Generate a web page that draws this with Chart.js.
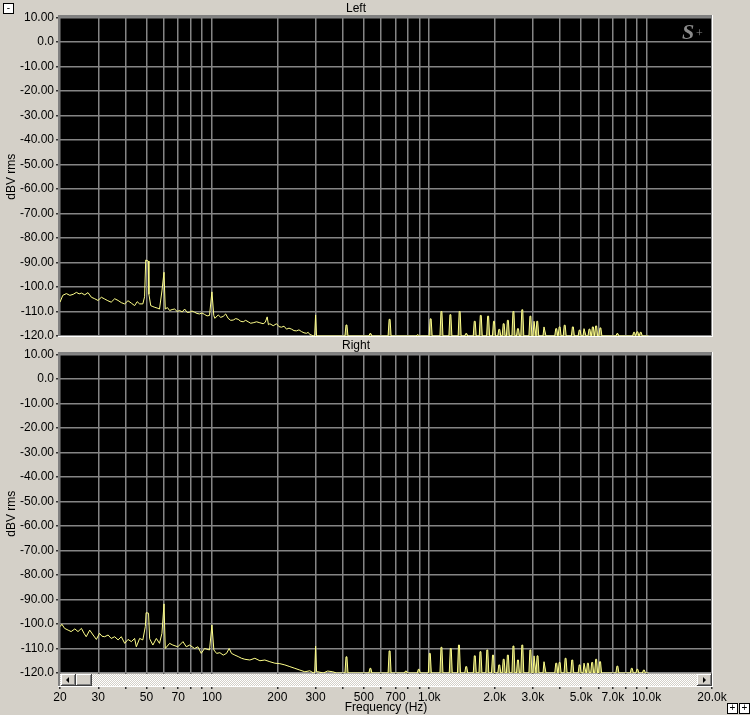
<!DOCTYPE html>
<html>
<head>
<meta charset="utf-8">
<title>Left / Right spectrum</title>
<script src="https://cdn.jsdelivr.net/npm/chart.js@4.4.1/dist/chart.umd.min.js"></script>
<style>
  html, body { margin: 0; padding: 0; }
  body { width: 750px; height: 715px; background: #d4d0c8; position: relative; overflow: hidden; font-family: "Liberation Sans", Arial, sans-serif; }
  #leftChart { position: absolute; left: 0; top: 0; }
  #rightChart { position: absolute; left: 0; top: 337px; }
  .btn { position: absolute; width: 9px; height: 9px; border: 1px solid #000; background: #fff; font-size: 10px; line-height: 8px; text-align: center; color: #000; }
</style>
</head>
<body>
<canvas id="leftChart" width="750" height="345"></canvas>
<canvas id="rightChart" width="750" height="378"></canvas>
<div class="btn" style="left:3px;top:3px;">-</div>
<div class="btn" style="left:727px;top:703px;">+</div>
<div class="btn" style="left:739px;top:703px;">+</div>
<script>
// axis setup
const FLOOR = -120;
const yTickValues = [10, 0, -10, -20, -30, -40, -50, -60, -70, -80, -90, -100, -110, -120];
const yTickLabels = ["10.00", "0.0", "-10.00", "-20.00", "-30.00", "-40.00", "-50.00", "-60.00",
  "-70.00", "-80.00", "-90.00", "-100.0", "-110.0", "-120.0"];
const xGridHz = [20, 30, 40, 50, 60, 70, 80, 90, 100, 200, 300, 400, 500, 600, 700, 800, 900,
  1000, 2000, 3000, 4000, 5000, 6000, 7000, 8000, 9000, 10000, 20000];
const xLabelHz = [20, 30, 50, 70, 100, 200, 300, 500, 700, 1000, 2000, 3000, 5000, 7000, 10000, 20000];
const xLabelText = ["20", "30", "50", "70", "100", "200", "300", "500", "700", "1.0k", "2.0k", "3.0k",
  "5.0k", "7.0k", "10.0k", "20.0k"];

// Left channel: noisy low end (20 Hz .. 300 Hz)
const leftLowHz = [20, 20.6, 21.4, 22.2, 23, 23.8, 24.5, 25.1, 26, 26.9, 27.9, 28.9, 29.9, 31, 32.1,
  33.2, 34.4, 35.7, 37, 38.3, 39.7, 41.1, 42.6, 44.1, 45.3, 46.5, 48.1, 49, 49.6, 50.9, 51.3, 52.3,
  53.5, 54.6, 56, 57.4, 58.9, 60.2, 61, 62.4, 63.9, 65.6, 67.4, 69.2, 71, 73, 74.9, 77, 79, 81, 83.2,
  85.4, 87.7, 90, 92.5, 95, 97.5, 100, 102, 103.2, 106.9, 109.8, 112.7, 115.7, 118.8, 122, 125.3,
  128.7, 132.1, 135.7, 139.3, 143, 146.9, 150.8, 154.8, 160.5, 166.2, 172.1, 176, 179.6, 182, 184.8,
  191.5, 198.3, 203.6, 209, 214.7, 220.4, 226.3, 232.4, 238.6, 245, 251.6, 258.3, 265.3, 272.4,
  277.3, 282.2, 287, 292.2, 297, 300, 303];
const leftLowDb = [-106.2, -103.4, -102.7, -103.4, -103, -102.2, -102.8, -102.5, -103.2, -102.3,
  -104.2, -104.8, -105.5, -104.2, -104.9, -105.6, -106.2, -104.8, -105.5, -106.4, -106.9, -105.6,
  -106.6, -107.6, -106, -106.9, -106.9, -104, -89, -89.4, -103, -107.6, -108, -108.3, -108.6, -109,
  -101.6, -94, -109, -108.4, -109.6, -109.2, -109, -110, -109.6, -110.2, -109, -110.4, -110.3,
  -109.8, -110.3, -110.8, -111, -110.6, -111.2, -111.8, -111.6, -102, -111.6, -112.8, -111.4,
  -112.4, -112, -111, -112.8, -113.6, -113.5, -112.9, -113.2, -114, -114.2, -113.6, -114.2, -114.8,
  -114.6, -114.2, -114.6, -115, -114.4, -112.2, -115.4, -115, -115.8, -115, -116.2, -116.4, -116,
  -117.2, -116.8, -117.2, -117.8, -117.9, -117.5, -118.2, -118.7, -118.9, -118.5, -119.4, -119.6,
  -120, -120, -111.4, -120];
// Left channel: tones poking above the -120 floor
const leftToneHz = [416, 536, 657, 885, 1015, 1138, 1251, 1380, 1480, 1619, 1726, 1866, 1985, 2100,
  2200, 2300, 2440, 2560, 2680, 2920, 3050, 3140, 3390, 3840, 3980, 4200, 4580, 4920, 5180, 5460,
  5660, 5860, 6130, 7340, 8760, 9070, 9400];
const leftToneDb = [-115.5, -119, -113.2, -119.5, -113, -110, -111.3, -110, -119, -114, -111.6,
  -111.9, -114, -117.3, -115, -113.6, -110, -117, -109.3, -111.9, -114, -114, -116.3, -117, -116.3,
  -115.6, -116.3, -117.6, -117, -117.2, -116.3, -115.9, -116.7, -119, -118.5, -118.3, -118.5];

// Right channel
const rightLowHz = [20, 20.4, 21, 21.8, 22.5, 23.4, 24.2, 25.1, 25.8, 26.4, 27.4, 28.4, 29.4, 30.4,
  31.2, 32.1, 33.3, 34.4, 35.7, 37, 38.3, 39.7, 41.1, 42.6, 44.1, 44.9, 46.5, 48.1, 49.4, 49.8, 51.1,
  51.7, 53.5, 55.5, 57.4, 58.9, 60.2, 61, 63.9, 66.1, 69.7, 73.6, 76.2, 79, 83.2, 86.2, 89.3, 92.5,
  97.5, 100, 102.1, 105.1, 108.8, 112.7, 116.7, 120.1, 123.1, 127.6, 132.1, 136.9, 141.8, 149.5,
  157.6, 166.2, 175.2, 184.8, 194.8, 205.4, 216.6, 228.4, 240.8, 253.8, 267.6, 282.2, 292.2, 297,
  300, 303, 308, 325, 341, 360, 374];
const rightLowDb = [-101.1, -100.1, -101.8, -102.5, -103.1, -102, -103.1, -101.8, -103.8, -105.2,
  -102.5, -104.5, -106.3, -103.8, -105, -105.2, -104.5, -105.9, -105.2, -106.5, -105.2, -107.9,
  -106.3, -107.2, -105.9, -109.3, -105.9, -106.5, -101, -95.4, -95.6, -106, -108.6, -105.9, -107.9,
  -103.8, -91.8, -110, -107.9, -108.6, -109.3, -107.2, -109.3, -108.6, -110, -109.3, -112, -110,
  -110.6, -100.4, -110.6, -112, -111.7, -112.7, -112, -110, -112, -112.7, -113.3, -114, -114.4,
  -114.7, -114, -115, -114.7, -115.4, -116, -116.2, -116.7, -117.4, -118.1, -118.8, -119.5, -119.1,
  -119.9, -120, -109, -119.5, -119.5, -120, -119.2, -119.5, -120];
const rightToneHz = [416, 536, 657, 781, 895, 1006, 1138, 1256, 1370, 1480, 1620, 1720, 1850, 1965,
  2100, 2200, 2300, 2440, 2560, 2680, 2920, 3050, 3150, 3390, 3840, 3980, 4240, 4550, 4920, 5180,
  5370, 5620, 5860, 6110, 7340, 8550, 9070, 9720];
const rightToneDb = [-113.4, -118.1, -111, -119.2, -118.5, -112, -109.5, -110, -108.6, -117.4, -113,
  -111.3, -110.6, -112.7, -116.7, -114.4, -112.7, -109, -114.7, -108.6, -110.6, -113, -113, -115.4,
  -116, -115.7, -114, -114.7, -116.7, -116, -116, -115.7, -114.4, -115.4, -117.2, -118.1, -118.5,
  -118.8];
const floorEndHz = 10200;

function tracePoints(hz, db) {
  return hz.map((f, i) => ({ x: f, y: db[i] }));
}

// floor line at -120 with a narrow spike for every tone
function tonePoints(startHz, hz, db, endHz) {
  const pts = [{ x: startHz, y: FLOOR }];
  hz.forEach((f, i) => {
    pts.push({ x: f / 1.016, y: FLOOR }, { x: f / 1.005, y: db[i] },
      { x: f * 1.005, y: db[i] }, { x: f * 1.016, y: FLOOR });
  });
  pts.push({ x: endHz, y: FLOOR });
  return pts;
}

let hatch = null;
function hatchPattern(ctx) {
  if (hatch) return hatch;
  const c = document.createElement("canvas");
  c.width = 2; c.height = 2;
  const g = c.getContext("2d");
  g.fillStyle = "#ffffff"; g.fillRect(0, 0, 2, 2);
  g.fillStyle = "#d4d0c8"; g.fillRect(0, 0, 1, 1); g.fillRect(1, 1, 1, 1);
  hatch = ctx.createPattern(c, "repeat");
  return hatch;
}

function button3d(ctx, x, y, w, h) {
  ctx.fillStyle = "#d4d0c8"; ctx.fillRect(x, y, w, h);
  ctx.fillStyle = "#ffffff"; ctx.fillRect(x, y, w - 1, 1); ctx.fillRect(x, y, 1, h - 1);
  ctx.fillStyle = "#404040"; ctx.fillRect(x, y + h - 1, w, 1); ctx.fillRect(x + w - 1, y, 1, h);
  ctx.fillStyle = "#808080"; ctx.fillRect(x + 1, y + h - 2, w - 2, 1); ctx.fillRect(x + w - 2, y + 1, 1, h - 2);
}

const panelFrame = {
  id: "panelFrame",
  beforeDraw(chart) {
    const { ctx, chartArea: a } = chart;
    ctx.save();
    ctx.fillStyle = "#000";
    ctx.fillRect(a.left, a.top, a.right - a.left, a.bottom - a.top);
    ctx.restore();
  },
  afterDraw(chart, args, opts) {
    const { ctx, chartArea: a } = chart;
    const l = Math.round(a.left), t = Math.round(a.top), r = Math.round(a.right), b = Math.round(a.bottom);
    ctx.save();
    const extra = opts.scrollbar ? 13 : 0;
    ctx.fillStyle = "#808080";
    ctx.fillRect(l - 2, t - 2, r - l + 2, 2);
    ctx.fillRect(l - 2, t - 2, 2, b - t + 3 + extra);
    ctx.fillStyle = "#ffffff";
    ctx.fillRect(r, t - 2, 1, b - t + 3 + extra);
    ctx.fillRect(l - 2, b + extra, r - l + 3, 1);
    if (opts.scrollbar) {
      const sy = b + 1;
      ctx.fillStyle = hatchPattern(ctx);
      ctx.fillRect(l, sy, r - l, 12);
      button3d(ctx, l + 1, sy, 15, 12);
      button3d(ctx, l + 16, sy, 16, 12);
      button3d(ctx, r - 15, sy, 15, 12);
      ctx.fillStyle = "#000";
      ctx.beginPath();
      ctx.moveTo(l + 6, sy + 6); ctx.lineTo(l + 9, sy + 3); ctx.lineTo(l + 9, sy + 9); ctx.closePath(); ctx.fill();
      ctx.beginPath();
      ctx.moveTo(r - 6, sy + 6); ctx.lineTo(r - 9, sy + 3); ctx.lineTo(r - 9, sy + 9); ctx.closePath(); ctx.fill();
    }
    if (opts.logo) {
      ctx.fillStyle = "#8a8a8a";
      ctx.font = 'italic bold 22px "Liberation Serif", serif';
      ctx.textBaseline = "alphabetic";
      ctx.fillText("S", r - 30, t + 22);
      ctx.font = '12px "Liberation Serif", serif';
      ctx.fillText("+", r - 16, t + 20);
    }
    ctx.restore();
  }
};

function makeOptions(title, isBottom) {
  return {
    responsive: false,
    animation: false,
    layout: { padding: { left: 0, right: 38, top: 0, bottom: 0 } },
    plugins: {
      legend: { display: false },
      tooltip: { enabled: false },
      title: {
        display: true,
        text: title,
        color: "#000",
        font: { family: '"Liberation Sans", Arial, sans-serif', size: 12, weight: "normal" },
        padding: { top: 1, bottom: 2 }
      },
      panelFrame: { scrollbar: isBottom, logo: !isBottom }
    },
    scales: {
      x: {
        type: "logarithmic",
        min: 20,
        max: 20000,
        border: { display: false },
        grid: {
          color: "#858585",
          lineWidth: 1.5,
          drawTicks: isBottom,
          tickLength: 16,
          tickColor: "#303030"
        },
        afterBuildTicks: (s) => { s.ticks = xGridHz.map((v) => ({ value: v })); },
        afterFit: (s) => {
          s.height = isBottom ? 42 : 9;
          s.paddingLeft = 0; s.paddingRight = 0;
        },
        ticks: {
          display: isBottom,
          autoSkip: false,
          maxRotation: 0,
          padding: 1,
          color: "#000",
          font: { family: '"Liberation Sans", Arial, sans-serif', size: 12 },
          callback: (v) => {
            const i = xLabelHz.indexOf(v);
            return i >= 0 ? xLabelText[i] : "";
          }
        },
        title: {
          display: isBottom,
          text: "Frequency (Hz)",
          color: "#000",
          font: { family: '"Liberation Sans", Arial, sans-serif', size: 12 },
          padding: { top: 0, bottom: 0 }
        }
      },
      y: {
        min: -120,
        max: 10,
        border: { display: false },
        grid: { color: "#858585", lineWidth: 1.5, tickLength: 4, tickColor: "#303030" },
        afterFit: (s) => {
          s.width = 60;
          s.paddingTop = 0; s.paddingBottom = 0;
        },
        ticks: {
          stepSize: 10,
          padding: 2,
          color: "#000",
          font: { family: '"Liberation Sans", Arial, sans-serif', size: 12 },
          callback: (v) => {
            const i = yTickValues.indexOf(v);
            return i >= 0 ? yTickLabels[i] : "";
          }
        },
        title: {
          display: true,
          text: "dBV rms",
          color: "#000",
          font: { family: '"Liberation Sans", Arial, sans-serif', size: 12 },
          padding: { top: 4, bottom: 0 }
        }
      }
    }
  };
}

function makeChart(id, title, lowHz, lowDb, toneHz, toneDb, isBottom) {
  const lastLow = lowHz[lowHz.length - 1];
  return new Chart(document.getElementById(id), {
    type: "line",
    data: {
      datasets: [
        {
          data: tracePoints(lowHz, lowDb),
          borderColor: "#ffff8a",
          borderWidth: 1,
          pointRadius: 0,
          fill: false
        },
        {
          data: tonePoints(lastLow, toneHz, toneDb, floorEndHz),
          borderColor: "#ffff8a",
          backgroundColor: "#7d7d48",
          borderWidth: 1,
          pointRadius: 0,
          fill: "start"
        }
      ]
    },
    options: makeOptions(title, isBottom),
    plugins: [panelFrame]
  });
}

makeChart("leftChart", "Left", leftLowHz, leftLowDb, leftToneHz, leftToneDb, false);
makeChart("rightChart", "Right", rightLowHz, rightLowDb, rightToneHz, rightToneDb, true);
</script>
</body>
</html>
